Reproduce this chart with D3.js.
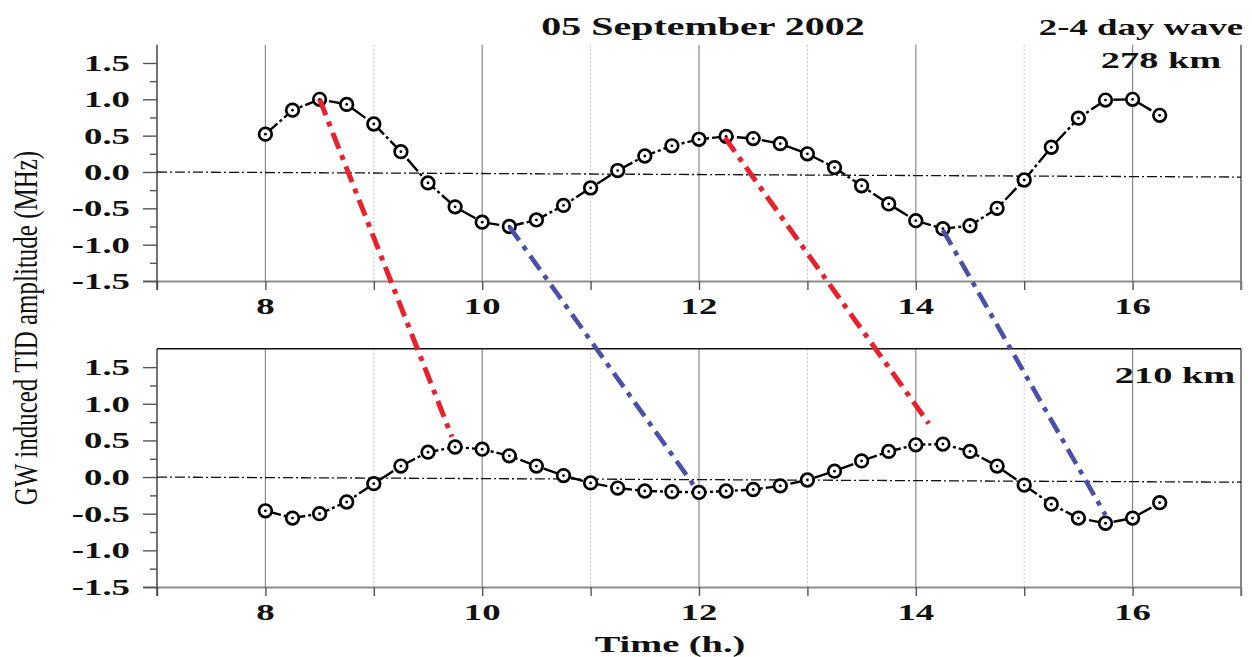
<!DOCTYPE html>
<html>
<head>
<meta charset="utf-8">
<script src="https://cdn.jsdelivr.net/npm/d3@7"></script>
<style>
  html, body { margin: 0; padding: 0; background: #ffffff; }
  svg { display: block; }
  text { font-family: "Liberation Serif", "Times New Roman", serif; fill: #111; }
</style>
</head>
<body>
<svg id="chart" width="1252" height="657"></svg>
<script>
// ---------------- DATA ----------------
const times = [8, 8.25, 8.5, 8.75, 9, 9.25, 9.5, 9.75, 10, 10.25, 10.5, 10.75, 11, 11.25, 11.5, 11.75,
               12, 12.25, 12.5, 12.75, 13, 13.25, 13.5, 13.75, 14, 14.25, 14.5, 14.75, 15, 15.25, 15.5, 15.75, 16, 16.25];
const amp278 = [0.52, 0.85, 1.00, 0.93, 0.66, 0.28, -0.15, -0.48, -0.69, -0.75, -0.66, -0.46, -0.22, 0.02, 0.22, 0.36,
                0.45, 0.49, 0.46, 0.39, 0.25, 0.06, -0.19, -0.44, -0.67, -0.78, -0.74, -0.50, -0.11, 0.34, 0.74, 0.99, 1.00, 0.78];
const amp210 = [-0.46, -0.56, -0.50, -0.34, -0.09, 0.15, 0.34, 0.41, 0.38, 0.29, 0.15, 0.02, -0.08, -0.15, -0.19, -0.20,
                -0.21, -0.19, -0.17, -0.12, -0.04, 0.08, 0.22, 0.35, 0.44, 0.45, 0.35, 0.15, -0.11, -0.37, -0.56, -0.63, -0.56, -0.35];
// reference (zero) line values at the left and right ends of the time axis
const zeroLineTop = [0.0, -0.07];
const zeroLineBot = [0.0, -0.07];
// phase-propagation connectors: [t_start(top panel), v_start, t_end(bottom panel), v_end]
const redLinks  = [[8.5, 1.00, 9.72, 0.55], [12.24, 0.47, 14.12, 0.73]];
const blueLinks = [[10.25, -0.75, 11.98, -0.17], [14.25, -0.80, 15.75, -0.52]];
const xDomain = [7, 17];
const yDomain = [-1.5, 1.75];
const xTicks = [7, 8, 9, 10, 11, 12, 13, 14, 15, 16, 17];
const xTickLabels = [8, 10, 12, 14, 16];
const yTicks = [-1.5, -1.0, -0.5, 0.0, 0.5, 1.0, 1.5];
const yMinorTicks = [-1.25, -0.75, -0.25, 0.25, 0.75, 1.25];
const titleText = "05 September 2002";
const waveText = "2-4 day wave";
const panelLabels = ["278 km", "210 km"];
const xTitle = "Time (h.)";
const yTitle = "GW induced TID amplitude (MHz)";

// ---------------- LAYOUT ----------------
const SX = 1.6; // horizontal stretch of the original lettering
const svg = d3.select("#chart");
const x = d3.scaleLinear().domain(xDomain).range([157, 1241]);
const yTop = d3.scaleLinear().domain(yDomain).range([281, 44.8]);
const yBot = d3.scaleLinear().domain(yDomain).range([587, 348.8]);

function stretchedText(g, px, py, txt, size, anchor, weight) {
  return g.append("text")
    .attr("transform", `translate(${px},${py}) scale(${SX},1)`)
    .attr("text-anchor", anchor)
    .style("font-size", size + "px")
    .style("font-weight", weight || "bold")
    .text(txt);
}

function drawPanel(y, values, zeroVals, label, isBottom) {
  const g = svg.append("g");
  const [yb, yt] = y.range();

  // grid lines
  g.selectAll(".grid").data(xTicks.filter(t => t > xDomain[0] && t < xDomain[1])).join("line")
    .attr("x1", d => x(d)).attr("x2", d => x(d))
    .attr("y1", yt).attr("y2", yb)
    .attr("stroke", d => d % 2 === 0 ? "#8a8a8a" : "#c4c4c4")
    .attr("stroke-width", d => d % 2 === 0 ? 1.2 : 1)
    .attr("stroke-dasharray", d => d % 2 === 0 ? null : "2,2");

  // x axis (ticks only)
  const xa = g.append("g").attr("transform", `translate(0,${yb})`)
    .call(d3.axisBottom(x).tickValues(xTicks).tickSize(9).tickSizeOuter(0).tickFormat(""));
  xa.select(".domain").attr("stroke", "#8c8c8c").attr("stroke-width", 2.2);
  xa.selectAll(".tick line").attr("stroke", "#555").attr("stroke-width", 1.4);
  xa.select(".domain").attr("d", `M${x.range()[0] - 14},0.5H${x.range()[1]}`);

  // y axis majors and minors
  const ya = g.append("g").attr("transform", `translate(${x.range()[0]},0)`)
    .call(d3.axisLeft(y).tickValues(yTicks).tickSize(14).tickSizeOuter(0).tickFormat(""));
  ya.select(".domain").attr("stroke", "#444").attr("stroke-width", 1.5)
    .attr("d", `M0,${yt}V${yb + 9}`);
  ya.selectAll(".tick line").attr("stroke", "#555").attr("stroke-width", 1.4);
  const ym = g.append("g").attr("transform", `translate(${x.range()[0]},0)`)
    .call(d3.axisLeft(y).tickValues(yMinorTicks).tickSize(7).tickFormat(""));
  ym.select(".domain").remove();
  ym.selectAll(".tick line").attr("stroke", "#555").attr("stroke-width", 1.4);

  // right border
  g.append("line").attr("x1", x.range()[1]).attr("x2", x.range()[1])
    .attr("y1", yt).attr("y2", yb + 9).attr("stroke", "#7a7a7a").attr("stroke-width", 1.8);
  // top border (bottom panel only)
  if (isBottom) {
    g.append("line").attr("x1", x.range()[0]).attr("x2", x.range()[1])
      .attr("y1", yt).attr("y2", yt).attr("stroke", "#111").attr("stroke-width", 1.6);
  }

  // y tick labels
  yTicks.forEach(v => stretchedText(g, 130, y(v) + 8, v.toFixed(1), 23, "end"));
  // x tick labels
  xTickLabels.forEach(t => stretchedText(g, x(t), yb + 33, String(t), 23, "middle"));

  // zero reference line
  g.append("line")
    .attr("x1", x(xDomain[0])).attr("y1", y(zeroVals[0]))
    .attr("x2", x(xDomain[1])).attr("y2", y(zeroVals[1]))
    .attr("stroke", "#111").attr("stroke-width", 1.3).attr("stroke-dasharray", "10,3,2,3");

  // data line
  const pts = times.map((t, i) => [t, values[i]]);
  g.append("path").datum(pts)
    .attr("d", d3.line().x(d => x(d[0])).y(d => y(d[1])))
    .attr("fill", "none").attr("stroke", "#000").attr("stroke-width", 2.4)
    .attr("stroke-dasharray", "16,3,3,3");

  // markers
  const m = g.selectAll(".pt").data(pts).join("g")
    .attr("transform", d => `translate(${x(d[0])},${y(d[1])})`);
  m.append("circle").attr("r", 6.3).attr("fill", "#fff").attr("stroke", "#000").attr("stroke-width", 2.7);
  m.append("circle").attr("r", 1.4).attr("fill", "#000");

  // panel label
  if (!isBottom) stretchedText(g, 1161, 68, label, 24, "middle");
  else stretchedText(g, 1175, 383, label, 24, "middle");
}

drawPanel(yTop, amp278, zeroLineTop, panelLabels[0], false);
drawPanel(yBot, amp210, zeroLineBot, panelLabels[1], true);

// connectors across panels
function drawLinks(links, color, width) {
  svg.append("g").selectAll("line").data(links).join("line")
    .attr("x1", d => x(d[0])).attr("y1", d => yTop(d[1]))
    .attr("x2", d => x(d[2])).attr("y2", d => yBot(d[3]))
    .attr("stroke", color).attr("stroke-width", width)
    .attr("stroke-dasharray", "17,7,5,7");
}
drawLinks(redLinks, "#e8222c", 5);
drawLinks(blueLinks, "#4a4fa8", 4.6);

// titles
stretchedText(svg, 703, 35, titleText, 25, "middle");
stretchedText(svg, 1141, 35, waveText, 23, "middle");
stretchedText(svg, 670, 652, xTitle, 24, "middle");
svg.append("text")
  .attr("transform", `translate(37,328) scale(1.35,1) rotate(-90)`)
  .attr("text-anchor", "middle")
  .style("font-size", "25px")
  .style("font-weight", "normal")
  .text(yTitle);
</script>
</body>
</html>
